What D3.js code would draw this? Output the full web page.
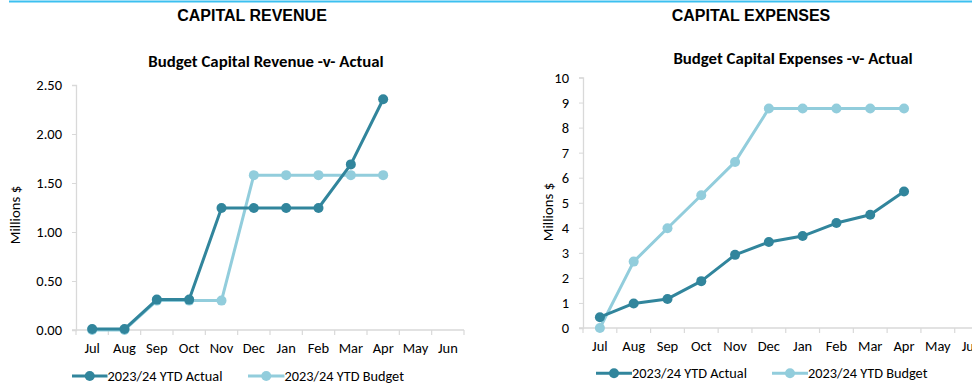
<!DOCTYPE html>
<html>
<head>
<meta charset="utf-8">
<script src="https://cdn.jsdelivr.net/npm/d3@7"></script>
<style>
  html, body { margin: 0; padding: 0; background: #fff; }
  svg { display: block; }
</style>
</head>
<body>
<svg id="chart" width="972" height="387"></svg>
<script>
// Financial-year months
const months = ["Jul", "Aug", "Sep", "Oct", "Nov", "Dec", "Jan", "Feb", "Mar", "Apr", "May", "Jun"];

// Capital revenue ($ millions, year to date)
const revenueActual = [0.01, 0.01, 0.31, 0.31, 1.245, 1.245, 1.245, 1.245, 1.69, 2.355];
const revenueBudget = [0.0, 0.0, 0.30, 0.30, 0.30, 1.58, 1.58, 1.58, 1.58, 1.58];
const revenueTicks = [0, 0.5, 1.0, 1.5, 2.0, 2.5];

// Capital expenses ($ millions, year to date)
const expensesActual = [0.43, 0.98, 1.16, 1.87, 2.92, 3.43, 3.67, 4.19, 4.52, 5.45];
const expensesBudget = [0.0, 2.65, 3.98, 5.30, 6.63, 8.76, 8.76, 8.76, 8.76, 8.76];
const expensesTicks = [0, 1, 2, 3, 4, 5, 6, 7, 8, 9, 10];

const seriesNames = ["2023/24 YTD Actual", "2023/24 YTD Budget"];
const sectionTitles = ["CAPITAL REVENUE", "CAPITAL EXPENSES"];
const chartTitles = ["Budget Capital Revenue -v- Actual", "Budget Capital Expenses -v- Actual"];

const COL_ACTUAL = "#31859c";
const COL_BUDGET = "#92cddc";
const AXIS = "#d9d9d9";
const BODY_FONT = "Carlito, Calibri, Lato, sans-serif";

const svg = d3.select("#chart");

// Thin blue rule across the top of the page
svg.append("line")
  .attr("x1", 9).attr("x2", 972).attr("y1", 1.5).attr("y2", 1.5)
  .attr("stroke", "#3cc0f0").attr("stroke-width", 2.2);

const panels = [
  {
    section: sectionTitles[0], sectionX: 252, sectionY: 21,
    title: chartTitles[0], titleX: 266, titleY: 66.5,
    left: 76, right: 464, top: 85, bottom: 330,
    domain: [0, 2.5], ticks: revenueTicks, fmt: d3.format(".2f"),
    actual: revenueActual, budget: revenueBudget,
    ylabelX: 19.5, ylabelY: 215, xLabelDy: 23,
    legendY: 376, legendX: [72, 248], legendTextX: [107.5, 284.5], legendDy: 4.8
  },
  {
    section: sectionTitles[1], sectionX: 751, sectionY: 21,
    title: chartTitles[1], titleX: 793, titleY: 64,
    left: 583, right: 988.5, top: 77.5, bottom: 328,
    domain: [0, 10], ticks: expensesTicks, fmt: d3.format("d"),
    actual: expensesActual, budget: expensesBudget,
    ylabelX: 553, ylabelY: 212, xLabelDy: 22.7,
    legendY: 373.3, legendX: [596, 772], legendTextX: [632, 808], legendDy: 5
  }
];

panels.forEach(p => {
  const g = svg.append("g");

  g.append("text")
    .attr("x", p.sectionX).attr("y", p.sectionY)
    .attr("text-anchor", "middle")
    .attr("font-family", "'Liberation Sans', Arial, sans-serif")
    .attr("font-weight", "bold").attr("font-size", 16)
    .attr("fill", "#000")
    .text(p.section);

  g.append("text")
    .attr("x", p.titleX).attr("y", p.titleY)
    .attr("text-anchor", "middle")
    .attr("font-family", BODY_FONT)
    .attr("font-weight", "bold").attr("font-size", 16.8)
    .attr("fill", "#000")
    .text(p.title);

  const x = d3.scaleBand().domain(months).range([p.left, p.right]);
  const y = d3.scaleLinear().domain(p.domain).range([p.bottom, p.top]);

  // y axis
  const yAxis = g.append("g")
    .attr("transform", `translate(${p.left},0)`)
    .call(d3.axisLeft(y).tickValues(p.ticks).tickFormat(p.fmt).tickSize(4).tickPadding(10));
  yAxis.select(".domain").attr("stroke", AXIS).attr("stroke-width", 1.3);
  yAxis.selectAll(".tick line").attr("stroke", AXIS);
  yAxis.selectAll(".tick text")
    .attr("font-family", BODY_FONT).attr("font-size", 14.5).attr("fill", "#000");

  // x axis with tick marks on category boundaries
  const xAxis = g.append("g").attr("transform", `translate(0,${p.bottom})`);
  xAxis.append("line")
    .attr("x1", p.left - 4).attr("x2", p.right)
    .attr("stroke", AXIS).attr("stroke-width", 1.3);
  const bounds = months.map(m => x(m)).concat([p.right]);
  xAxis.selectAll("line.bound").data(bounds).join("line")
    .attr("class", "bound")
    .attr("x1", d => d).attr("x2", d => d)
    .attr("y1", 0).attr("y2", 5)
    .attr("stroke", AXIS).attr("stroke-width", 1.2);
  xAxis.selectAll("text").data(months).join("text")
    .attr("x", d => x(d) + x.bandwidth() / 2)
    .attr("y", p.xLabelDy)
    .attr("text-anchor", "middle")
    .attr("font-family", BODY_FONT).attr("font-size", 14.5).attr("fill", "#000")
    .text(d => d);

  // y axis title
  g.append("text")
    .attr("transform", `translate(${p.ylabelX},${p.ylabelY}) rotate(-90)`)
    .attr("text-anchor", "middle")
    .attr("font-family", BODY_FONT).attr("font-size", 14.8).attr("fill", "#000")
    .text("Millions $");

  const cx = (d, i) => x(months[i]) + x.bandwidth() / 2;
  const line = d3.line().x(cx).y(d => y(d));

  [[p.budget, COL_BUDGET], [p.actual, COL_ACTUAL]].forEach(([vals, col]) => {
    g.append("path")
      .datum(vals)
      .attr("d", line)
      .attr("fill", "none")
      .attr("stroke", col).attr("stroke-width", 3)
      .attr("stroke-linejoin", "round");
    g.selectAll(null).data(vals).join("circle")
      .attr("cx", cx).attr("cy", d => y(d))
      .attr("r", 5).attr("fill", col);
  });

  // legend
  [[COL_ACTUAL, seriesNames[0]], [COL_BUDGET, seriesNames[1]]].forEach(([col, name], k) => {
    const lx = p.legendX[k];
    const lg = g.append("g").attr("transform", `translate(${lx},${p.legendY})`);
    lg.append("line").attr("x1", 0).attr("x2", p.legendTextX[k] - lx)
      .attr("stroke", col).attr("stroke-width", 3);
    lg.append("circle").attr("cx", (p.legendTextX[k] - lx) / 2).attr("r", 5).attr("fill", col);
    lg.append("text").attr("x", p.legendTextX[k] - lx).attr("y", p.legendDy)
      .attr("font-family", BODY_FONT).attr("font-size", 14.3).attr("fill", "#000")
      .text(name);
  });
});
</script>
</body>
</html>
